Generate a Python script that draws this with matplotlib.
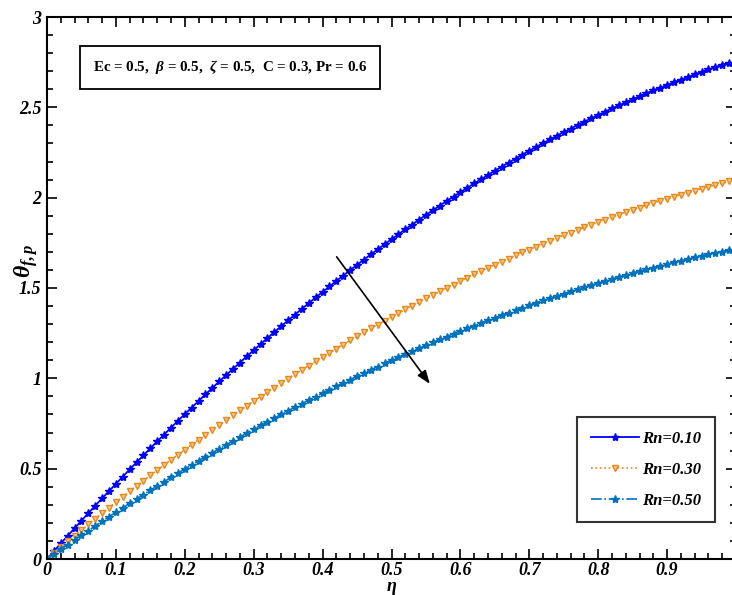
import matplotlib
matplotlib.use('Agg')
import matplotlib.pyplot as plt
import numpy as np

plt.rcParams['font.family'] = ['Liberation Serif', 'DejaVu Serif']
plt.rcParams['mathtext.fontset'] = 'custom'
plt.rcParams['mathtext.it'] = 'Liberation Serif:italic:bold'
plt.rcParams['mathtext.rm'] = 'Liberation Serif:bold'
plt.rcParams['mathtext.bf'] = 'Liberation Serif:bold'

# eta values, step 0.01
eta = np.arange(100) / 100.0

# Rn = 0.10
theta_rn010 = [0.000, 0.043, 0.086, 0.128, 0.170, 0.212, 0.254, 0.295, 0.336, 0.376,
               0.416, 0.456, 0.496, 0.535, 0.574, 0.613, 0.651, 0.689, 0.727, 0.765,
               0.802, 0.838, 0.875, 0.911, 0.947, 0.983, 1.018, 1.053, 1.087, 1.122,
               1.156, 1.189, 1.223, 1.256, 1.289, 1.321, 1.353, 1.385, 1.416, 1.448,
               1.478, 1.509, 1.539, 1.569, 1.599, 1.628, 1.657, 1.686, 1.714, 1.742,
               1.770, 1.797, 1.825, 1.851, 1.878, 1.904, 1.930, 1.956, 1.981, 2.006,
               2.030, 2.055, 2.079, 2.102, 2.126, 2.149, 2.172, 2.194, 2.216, 2.238,
               2.260, 2.281, 2.302, 2.322, 2.343, 2.363, 2.382, 2.402, 2.421, 2.439,
               2.458, 2.476, 2.494, 2.511, 2.528, 2.545, 2.561, 2.578, 2.594, 2.609,
               2.624, 2.639, 2.654, 2.668, 2.682, 2.696, 2.710, 2.723, 2.735, 2.748]

# Rn = 0.30
theta_rn030 = [0.000, 0.033, 0.065, 0.097, 0.129, 0.160, 0.191, 0.223, 0.253, 0.284,
               0.314, 0.345, 0.375, 0.404, 0.434, 0.463, 0.492, 0.521, 0.549, 0.578,
               0.606, 0.633, 0.661, 0.688, 0.716, 0.742, 0.769, 0.796, 0.822, 0.848,
               0.874, 0.899, 0.924, 0.949, 0.974, 0.999, 1.023, 1.047, 1.071, 1.095,
               1.118, 1.141, 1.164, 1.187, 1.210, 1.232, 1.254, 1.276, 1.297, 1.319,
               1.340, 1.361, 1.381, 1.402, 1.422, 1.442, 1.462, 1.481, 1.500, 1.519,
               1.538, 1.557, 1.575, 1.593, 1.611, 1.629, 1.646, 1.663, 1.680, 1.697,
               1.713, 1.729, 1.745, 1.761, 1.777, 1.792, 1.807, 1.822, 1.836, 1.851,
               1.865, 1.879, 1.893, 1.906, 1.919, 1.932, 1.945, 1.957, 1.970, 1.982,
               1.994, 2.005, 2.017, 2.028, 2.039, 2.049, 2.060, 2.070, 2.080, 2.090]

# Rn = 0.50
theta_rn050 = [0.000, 0.027, 0.053, 0.080, 0.106, 0.132, 0.157, 0.183, 0.208, 0.234,
               0.259, 0.283, 0.308, 0.332, 0.357, 0.381, 0.404, 0.428, 0.452, 0.475,
               0.498, 0.521, 0.543, 0.566, 0.588, 0.610, 0.632, 0.654, 0.675, 0.697,
               0.718, 0.739, 0.759, 0.780, 0.800, 0.821, 0.841, 0.860, 0.880, 0.899,
               0.918, 0.937, 0.956, 0.975, 0.993, 1.012, 1.030, 1.047, 1.065, 1.083,
               1.100, 1.117, 1.134, 1.150, 1.167, 1.183, 1.199, 1.215, 1.231, 1.247,
               1.262, 1.277, 1.292, 1.307, 1.321, 1.336, 1.350, 1.364, 1.378, 1.391,
               1.405, 1.418, 1.431, 1.444, 1.456, 1.469, 1.481, 1.493, 1.505, 1.517,
               1.528, 1.539, 1.551, 1.561, 1.572, 1.583, 1.593, 1.603, 1.613, 1.623,
               1.632, 1.642, 1.651, 1.660, 1.669, 1.677, 1.686, 1.694, 1.702, 1.710]

labels = ['Rn=0.10', 'Rn=0.30', 'Rn=0.50']
x_ticks = [0, 0.1, 0.2, 0.3, 0.4, 0.5, 0.6, 0.7, 0.8, 0.9]
x_ticklabels = ['0', '0.1', '0.2', '0.3', '0.4', '0.5', '0.6', '0.7', '0.8', '0.9']
y_ticks = [0, 0.5, 1, 1.5, 2, 2.5, 3]
y_ticklabels = ['0', '0.5', '1', '1.5', '2', '2.5', '3']

fig = plt.figure(figsize=(7.32, 5.95), dpi=100)
ax = fig.add_axes([47/732, 1 - 559/595, 689/732, 542/595])

ax.plot(eta, theta_rn010, '-', color='#0000FF', lw=1.3, marker='*', ms=6,
        mfc='#0000FF', mec='#0000FF', label=labels[0])
ax.plot(eta, theta_rn030, ':', color='#E8891A', lw=1.2, marker='v', ms=5,
        mfc='#F7C58A', mec='#E8891A', mew=1.0, label=labels[1])
ax.plot(eta, theta_rn050, '-.', color='#0072BD', lw=1.2, marker='*', ms=6,
        mfc='#0072BD', mec='#0072BD', label=labels[2])

ax.set_xlim(0, 1)
ax.set_ylim(0, 3)
ax.set_xticks(x_ticks)
ax.set_xticklabels(x_ticklabels)
ax.set_yticks(y_ticks)
ax.set_yticklabels(y_ticklabels)
ax.set_xticks(np.arange(0, 1.001, 0.02), minor=True)
ax.set_yticks(np.arange(0, 3.001, 0.1), minor=True)
ax.tick_params(which='both', direction='in', top=True, right=True, width=1.2)
ax.tick_params(which='major', length=7, labelsize=13)
ax.tick_params(axis='x', which='major', pad=2)
ax.tick_params(axis='y', which='major', pad=4)
ax.tick_params(which='minor', length=4)
for lab in ax.get_xticklabels() + ax.get_yticklabels():
    lab.set_fontstyle('italic')
    lab.set_fontweight('bold')
for sp in ax.spines.values():
    sp.set_linewidth(1.5)

ax.set_xlabel('η', fontsize=13, fontstyle='italic', fontweight='bold',
              va='bottom')
ax.xaxis.set_label_coords(0.5, -0.066)
ax.set_ylabel(r'$\theta_{f,p}$', fontsize=17)
ax.yaxis.set_label_coords(-0.01, 0.55)

ax.text(0.266, 0.907, r'Ec = 0.5,  $\beta$ = 0.5,  $\zeta$ = 0.5,  C = 0.3, Pr = 0.6',
        transform=ax.transAxes, ha='center', va='center', fontsize=10.8,
        fontweight='bold',
        bbox=dict(boxstyle='square,pad=0.85', fc='white', ec='black', lw=1.3))

ax.annotate('', xy=(0.558, 0.957), xytext=(0.418, 1.685),
            arrowprops=dict(arrowstyle='-|>,head_length=0.8,head_width=0.3',
                            color='black', lw=1.2))

leg = ax.legend(loc='lower right', bbox_to_anchor=(0.969, 0.068),
                prop={'family': 'Liberation Serif', 'style': 'italic',
                      'weight': 'bold', 'size': 12},
                frameon=True, fancybox=False, edgecolor='black',
                borderpad=0.8, labelspacing=0.9, handlelength=2.9,
                handletextpad=0.2, borderaxespad=0)
leg.get_frame().set_linewidth(1.5)

fig.savefig('out.png', dpi=100)
